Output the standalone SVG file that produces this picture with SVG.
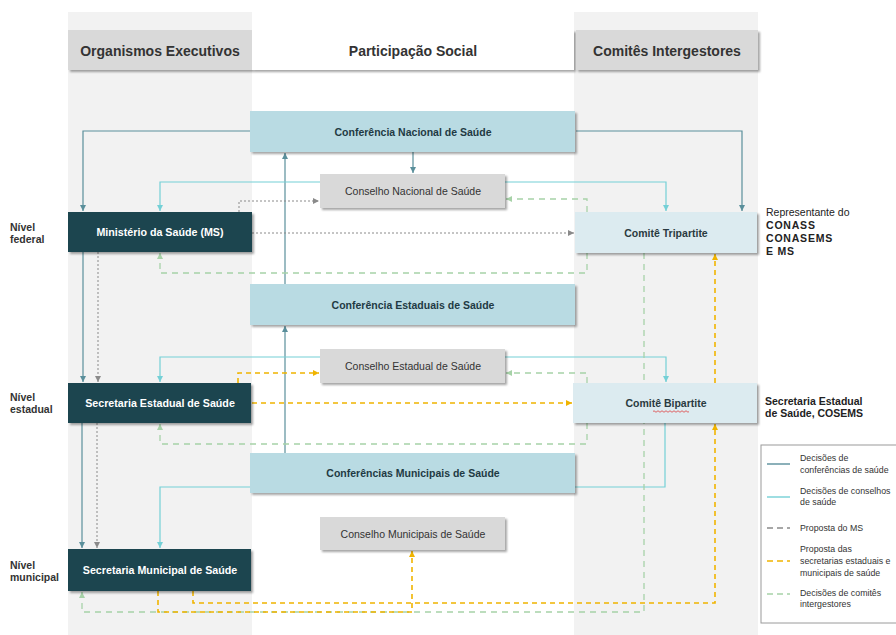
<svg xmlns="http://www.w3.org/2000/svg" width="896" height="635" viewBox="0 0 896 635">
<style>
  text { font-family: "Liberation Sans", Arial, sans-serif; fill: #333; }
  .hdr { font-size: 14px; font-weight: bold; text-anchor: middle; fill: #333; }
  .lvl { font-size: 10.5px; font-weight: bold; fill: #333; }
  .side { font-size: 10.5px; fill: #222; }
  .sideb { font-size: 10.5px; font-weight: bold; fill: #222; letter-spacing: 0.8px; }
  .conf rect { fill: #b9dbe3; filter: url(#sh); }
  .conf text { font-size: 10.5px; font-weight: bold; text-anchor: middle; fill: #1f3a44; }
  .cons rect { fill: #d9d9d9; filter: url(#sh); }
  .cons text { font-size: 10.5px; text-anchor: middle; fill: #333; }
  .exec rect { fill: #1f4450; filter: url(#sh); }
  .exec text { font-size: 10.7px; font-weight: bold; text-anchor: middle; fill: #ffffff; }
  .com rect { fill: #dcebf0; filter: url(#sh); }
  .com text { font-size: 10.5px; font-weight: bold; text-anchor: middle; fill: #2a3a40; }
  .c-teal { fill: none; stroke: #5a8f9b; stroke-width: 1.2; }
  .c-cyan { fill: none; stroke: #74d0d6; stroke-width: 1.2; }
  .c-gray { fill: none; stroke: #8a8a8a; stroke-width: 1; stroke-dasharray: 2 2; }
  .c-yel { fill: none; stroke: #f0b400; stroke-width: 1.6; stroke-dasharray: 5 4; }
  .c-grn { fill: none; stroke: #a7d2a8; stroke-width: 1.3; stroke-dasharray: 6 5; }
  .lg { font-size: 8.8px; fill: #333; }
</style>
<defs>
  <filter id="sh" x="-5%" y="-10%" width="115%" height="140%">
    <feDropShadow dx="2" dy="2" stdDeviation="1.2" flood-color="#000" flood-opacity="0.35"/>
  </filter>
  <marker id="a-teal" markerWidth="6" markerHeight="6" refX="6" refY="3" orient="auto" markerUnits="userSpaceOnUse"><path d="M0,0 L6,3 L0,6 z" fill="#5a8f9b"/></marker>
  <marker id="a-cyan" markerWidth="6" markerHeight="6" refX="6" refY="3" orient="auto" markerUnits="userSpaceOnUse"><path d="M0,0 L6,3 L0,6 z" fill="#74d0d6"/></marker>
  <marker id="a-gray" markerWidth="6" markerHeight="6" refX="6" refY="3" orient="auto" markerUnits="userSpaceOnUse"><path d="M0,0 L6,3 L0,6 z" fill="#8a8a8a"/></marker>
  <marker id="a-yel" markerWidth="6" markerHeight="6" refX="6" refY="3" orient="auto" markerUnits="userSpaceOnUse"><path d="M0,0 L6,3 L0,6 z" fill="#f0b400"/></marker>
  <marker id="a-grn" markerWidth="6" markerHeight="6" refX="6" refY="3" orient="auto" markerUnits="userSpaceOnUse"><path d="M0,0 L6,3 L0,6 z" fill="#a7d2a8"/></marker>
</defs>

<rect width="896" height="635" fill="#ffffff"/>
<!-- column backgrounds -->
<rect x="68" y="12" width="184" height="623" fill="#f2f2f2"/>
<rect x="574" y="12" width="184" height="623" fill="#f2f2f2"/>

<!-- headers -->
<g id="header-executivos">
  <rect x="68" y="30" width="184" height="40" fill="#d9d9d9" filter="url(#sh)"/>
  <text class="hdr" x="160" y="56">Organismos Executivos</text>
</g>
<g id="header-participacao">
  <rect x="252" y="30" width="322" height="40" fill="#ffffff" filter="url(#sh)"/>
  <text class="hdr" x="413" y="56">Participação Social</text>
</g>
<g id="header-comites">
  <rect x="576" y="30" width="182" height="40" fill="#d9d9d9" filter="url(#sh)"/>
  <text class="hdr" x="667" y="56">Comitês Intergestores</text>
</g>

<!-- level labels -->
<text class="lvl" x="10" y="231">Nível</text>
<text class="lvl" x="10" y="243">federal</text>
<text class="lvl" x="10" y="401">Nível</text>
<text class="lvl" x="10" y="413">estadual</text>
<text class="lvl" x="10" y="569">Nível</text>
<text class="lvl" x="10" y="581">municipal</text>

<!-- side labels -->
<text class="side" x="766" y="216">Representante do</text>
<text class="sideb" x="766" y="229">CONASS</text>
<text class="sideb" x="766" y="242">CONASEMS</text>
<text class="sideb" x="766" y="255">E MS</text>
<text class="sideb" x="765" y="405" style="letter-spacing:0">Secretaria Estadual</text>
<text class="sideb" x="765" y="417" style="letter-spacing:0">de Saúde, COSEMS</text>

<!-- connectors -->
<g id="connectors">
  <!-- conference decisions (teal) -->
  <path class="c-teal" d="M250,131 H83 V211" marker-end="url(#a-teal)"/>
  <path class="c-teal" d="M576,131 H742 V211" marker-end="url(#a-teal)"/>
  <path class="c-teal" d="M413,152 V173" marker-end="url(#a-teal)"/>
  <path class="c-teal" d="M285,453 V326" marker-end="url(#a-teal)"/>
  <path class="c-teal" d="M285,284 V153" marker-end="url(#a-teal)"/>
  <path class="c-teal" d="M83,252 V382" marker-end="url(#a-teal)"/>
  <path class="c-teal" d="M82,423 V548" marker-end="url(#a-teal)"/>
  <!-- council decisions (cyan) -->
  <path class="c-cyan" d="M413,182 H160 V211" marker-end="url(#a-cyan)"/>
  <path class="c-cyan" d="M413,182 H666 V211" marker-end="url(#a-cyan)"/>
  <path class="c-cyan" d="M413,357 H160 V382" marker-end="url(#a-cyan)"/>
  <path class="c-cyan" d="M413,357 H666 V382" marker-end="url(#a-cyan)"/>
  <path class="c-cyan" d="M665,423 V487 H160 V548" marker-end="url(#a-cyan)"/>
  <!-- MS proposals (gray dotted) -->
  <path class="c-gray" d="M239,212 V201 H319" marker-end="url(#a-gray)"/>
  <path class="c-gray" d="M252,233 H574" marker-end="url(#a-gray)"/>
  <path class="c-gray" d="M98,252 V382" marker-end="url(#a-gray)"/>
  <path class="c-gray" d="M97,423 V548" marker-end="url(#a-gray)"/>
  <!-- state/municipal proposals (yellow) -->
  <path class="c-yel" d="M238,383 V373 H319" marker-end="url(#a-yel)"/>
  <path class="c-yel" d="M252,403 H572" marker-end="url(#a-yel)"/>
  <path class="c-yel" d="M193,591 V603 H715 V424" marker-end="url(#a-yel)"/>
  <path class="c-yel" d="M715,383 V254" marker-end="url(#a-yel)"/>
  <path class="c-grn" d="M644,253 V612 H82 V592" marker-end="url(#a-grn)"/>
  <path class="c-yel" d="M158,591 V612 H412 V551" marker-end="url(#a-yel)"/>
  <!-- intergestor decisions (green) -->
  <path class="c-grn" d="M587,212 V199 H506" marker-end="url(#a-grn)"/>
  <path class="c-grn" d="M587,253 V273 H160 V253" marker-end="url(#a-grn)"/>
  <path class="c-grn" d="M587,383 V373 H506" marker-end="url(#a-grn)"/>
  <path class="c-grn" d="M587,423 V444 H160 V424" marker-end="url(#a-grn)"/>
</g>

<!-- nodes -->
<g id="conf-nacional" class="conf">
  <rect x="250" y="111" width="325" height="41"/>
  <text x="413" y="135.5">Conferência Nacional de Saúde</text>
</g>
<g id="conselho-nacional" class="cons">
  <rect x="320" y="174" width="185" height="34"/>
  <text x="413" y="195">Conselho Nacional de Saúde</text>
</g>
<g id="ministerio" class="exec">
  <rect x="68" y="212" width="184" height="40"/>
  <text x="160" y="236">Ministério da Saúde (MS)</text>
</g>
<g id="comite-tripartite" class="com">
  <rect x="575" y="212" width="182" height="41"/>
  <text x="666" y="236.5">Comitê Tripartite</text>
</g>
<g id="conf-estaduais" class="conf">
  <rect x="250" y="284" width="325" height="41"/>
  <text x="413" y="308.5">Conferência Estaduais de Saúde</text>
</g>
<g id="conselho-estadual" class="cons">
  <rect x="320" y="349" width="185" height="34"/>
  <text x="413" y="370">Conselho Estadual de Saúde</text>
</g>
<g id="secretaria-estadual" class="exec">
  <rect x="68" y="383" width="183" height="40"/>
  <text x="160" y="407">Secretaria Estadual de Saúde</text>
</g>
<g id="comite-bipartite" class="com">
  <rect x="573" y="383" width="184" height="40"/>
  <text x="666" y="407">Comitê Bipartite</text>
  <path d="M653,411.5 q1,-1.5 2,0 t2,0 t2,0 t2,0 t2,0 t2,0 t2,0 t2,0 t2,0 t2,0 t2,0 t2,0 t2,0 t2,0 t2,0 t2,0 t2,0 t2,0" fill="none" stroke="#e04040" stroke-width="0.8"/>
</g>
<g id="conf-municipais" class="conf">
  <rect x="250" y="453" width="325" height="40"/>
  <text x="413" y="477">Conferências Municipais de Saúde</text>
</g>
<g id="conselho-municipais" class="cons">
  <rect x="320" y="517" width="185" height="33"/>
  <text x="413" y="537.5">Conselho Municipais de Saúde</text>
</g>
<g id="secretaria-municipal" class="exec">
  <rect x="68" y="549" width="183" height="42"/>
  <text x="160" y="574">Secretaria Municipal de Saúde</text>
</g>

<!-- legend -->
<g id="legend">
  <rect x="761" y="445" width="140" height="178" fill="#ffffff" stroke="#9a9a9a" stroke-width="1"/>
  <line x1="767" y1="464" x2="790" y2="464" stroke="#5a8f9b" stroke-width="1.4"/>
  <text class="lg" x="800" y="461">Decisões de</text>
  <text class="lg" x="800" y="473">conferências de saúde</text>
  <line x1="767" y1="497" x2="790" y2="497" stroke="#74d0d6" stroke-width="1.4"/>
  <text class="lg" x="800" y="494">Decisões de conselhos</text>
  <text class="lg" x="800" y="505">de saúde</text>
  <line x1="767" y1="528" x2="790" y2="528" stroke="#8a8a8a" stroke-width="1.3" stroke-dasharray="6 4"/>
  <text class="lg" x="800" y="531">Proposta do MS</text>
  <line x1="767" y1="561" x2="790" y2="561" stroke="#f0b400" stroke-width="1.6" stroke-dasharray="6 4"/>
  <text class="lg" x="800" y="552">Proposta das</text>
  <text class="lg" x="800" y="564">secretarias estaduais e</text>
  <text class="lg" x="800" y="576">municipais de saúde</text>
  <line x1="767" y1="594" x2="790" y2="594" stroke="#a7d2a8" stroke-width="1.3" stroke-dasharray="6 4"/>
  <text class="lg" x="800" y="596">Decisões de comitês</text>
  <text class="lg" x="800" y="607">intergestores</text>
</g>
</svg>
